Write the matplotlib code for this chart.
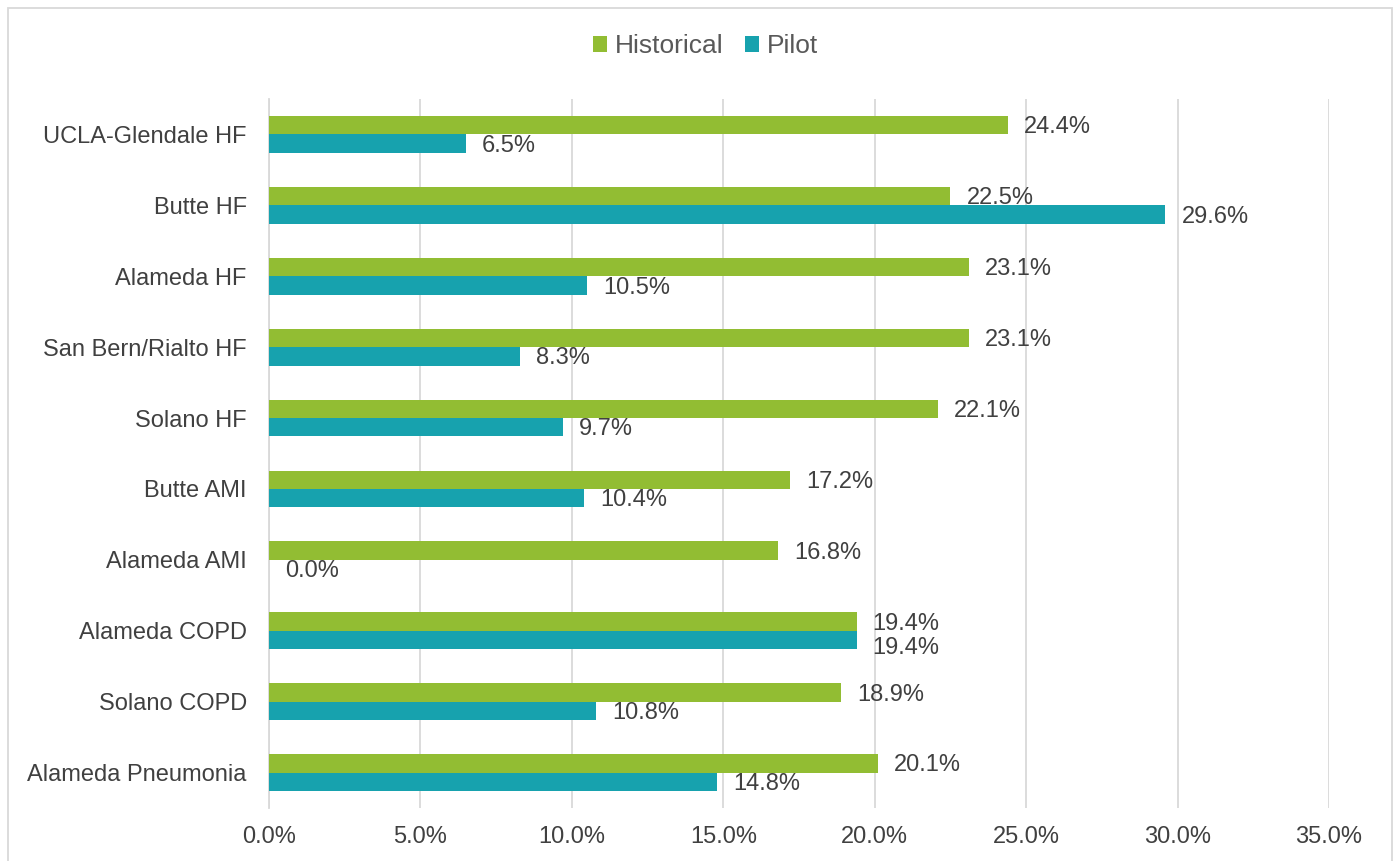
import numpy as np
import matplotlib
matplotlib.use('Agg')
import matplotlib.pyplot as plt
from matplotlib.patches import Rectangle

categories = ['UCLA-Glendale HF', 'Butte HF', 'Alameda HF', 'San Bern/Rialto HF',
              'Solano HF', 'Butte AMI', 'Alameda AMI', 'Alameda COPD',
              'Solano COPD', 'Alameda Pneumonia']
historical = [24.4, 22.5, 23.1, 23.1, 22.1, 17.2, 16.8, 19.4, 18.9, 20.1]
pilot = [6.5, 29.6, 10.5, 8.3, 9.7, 10.4, 0.0, 19.4, 10.8, 14.8]
xticks = [0, 5, 10, 15, 20, 25, 30, 35]

GREEN = '#92BD33'
TEAL = '#17A2AE'
TEXT = '#404040'
GRID = '#D9D9D9'

plt.rcParams['font.family'] = ['Liberation Sans', 'DejaVu Sans']

fig = plt.figure(figsize=(13.96, 8.61), dpi=100)
ax = fig.add_axes([269 / 1396, 53 / 861, 1060 / 1396, 709 / 861])

y = np.arange(len(categories))
h = 0.26
ax.barh(y - h / 2, historical, height=h, color=GREEN, label='Historical', zorder=3)
ax.barh(y + h / 2, pilot, height=h, color=TEAL, label='Pilot', zorder=3)

for yi, v in zip(y, historical):
    ax.annotate(f'{v:.1f}%', (v, yi - h / 2 + 0.03), xytext=(11.5, 0), textcoords='offset points',
                va='center', ha='left', fontsize=17, color=TEXT)
for yi, v, hv in zip(y, pilot, historical):
    # labels that would collide with the historical one get nudged down
    dy = -4.5 if abs(v - hv) < 2 else 0
    ax.annotate(f'{v:.1f}%', (v, yi + h / 2 + 0.03), xytext=(11.5, dy), textcoords='offset points',
                va='center', ha='left', fontsize=17, color=TEXT)

ax.set_ylim(len(categories) - 0.5, -0.5)
ax.set_xlim(0, 35)
ax.set_yticks(y)
ax.set_yticklabels(categories, fontsize=17, color=TEXT)
ax.set_xticks(xticks)
ax.set_xticklabels([f'{t:.1f}%' for t in xticks], fontsize=17, color=TEXT)
ax.tick_params(axis='both', length=0)
ax.tick_params(axis='y', pad=16)
ax.tick_params(axis='x', pad=13)
ax.grid(axis='x', color=GRID, linewidth=1.3, zorder=0)
for s in ['top', 'right', 'bottom']:
    ax.spines[s].set_visible(False)
ax.spines['left'].set_color(GRID)
ax.spines['left'].set_linewidth(1.3)

fig.legend(loc='center', bbox_to_anchor=(0.5055, 0.946), ncol=2, frameon=False,
           fontsize=19, handlelength=0.55, handleheight=0.55, handletextpad=0.3,
           columnspacing=0.8, labelcolor='#595959')

fig.patches.append(Rectangle((8 / 1396, -0.01), 1384 / 1396, 1 - 8 / 861 + 0.01,
                             transform=fig.transFigure, fill=False,
                             edgecolor=GRID, linewidth=1.3))

fig.savefig('out.png', dpi=100)
